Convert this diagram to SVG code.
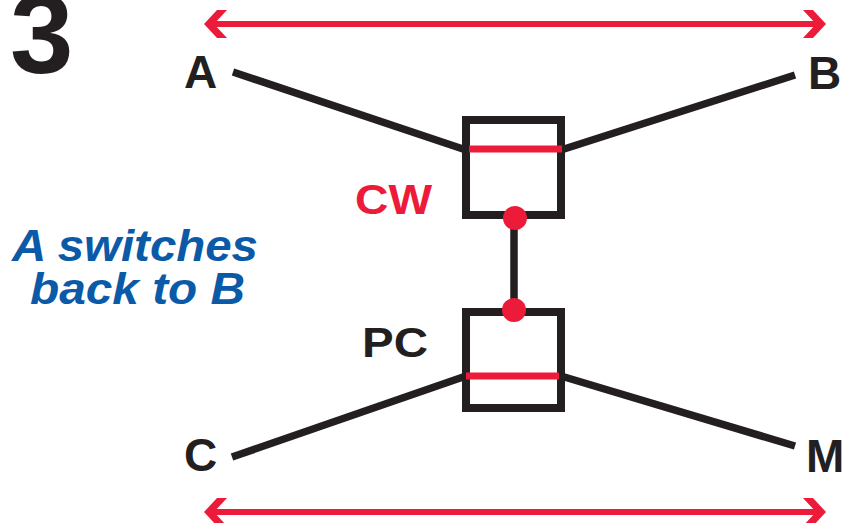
<svg xmlns="http://www.w3.org/2000/svg" width="844" height="523" viewBox="0 0 844 523">
<style>
.blk{stroke:#231f20;stroke-width:7.5;fill:none}
.box{stroke:#231f20;stroke-width:8;fill:#fff}
.bar{stroke:#ed1b3a;stroke-width:7}
.arr{stroke:#ed1b3a;stroke-width:6}
.head{fill:#ed1b3a}
.dot{fill:#ed1b3a}
.lbl{font-family:"Liberation Sans",Arial,sans-serif;font-weight:bold;fill:#231f20}
.note{font-family:"Liberation Sans",Arial,sans-serif;font-weight:bold;font-style:italic;font-size:44px;fill:#0a5aa8}
</style>
<rect width="844" height="523" fill="#fff"/>
<text class="lbl" x="10" y="73" font-size="114">3</text>
<text class="note" x="12" y="261" textLength="246" lengthAdjust="spacingAndGlyphs">A switches</text>
<text class="note" x="30" y="304" textLength="215" lengthAdjust="spacingAndGlyphs">back to B</text>
<g id="connectors">
<line class="blk" x1="233" y1="72" x2="466" y2="150"/>
<line class="blk" x1="561" y1="150" x2="795" y2="75"/>
<line class="blk" x1="232" y1="457" x2="466" y2="376"/>
<line class="blk" x1="561" y1="376" x2="795" y2="446"/>
<line class="blk" x1="514" y1="218" x2="514" y2="310"/>
<g id="arrowTop">
<line class="arr" x1="210" y1="24" x2="820" y2="24"/>
<polygon class="head" points="803,10 813,10 826,24 813,38 803,38 816,24"/>
<polygon class="head" points="227,10 217,10 204,24 217,38 227,38 214,24"/>
</g>
<g id="arrowBottom">
<line class="arr" x1="210" y1="512" x2="820" y2="512"/>
<polygon class="head" points="803,498 813,498 826,512 813,526 803,526 816,512"/>
<polygon class="head" points="227,498 217,498 204,512 217,526 227,526 214,512"/>
</g>
</g>
<g id="A"><text class="lbl" x="184" y="88" font-size="46">A</text></g>
<g id="B"><text class="lbl" x="808" y="89" font-size="46">B</text></g>
<g id="C"><text class="lbl" x="184" y="471" font-size="46">C</text></g>
<g id="M"><text class="lbl" x="806" y="472" font-size="46">M</text></g>
<g id="CW">
<rect class="box" x="466" y="120" width="95" height="95"/>
<line class="bar" x1="469" y1="149" x2="562" y2="149"/>
<circle class="dot" cx="515" cy="218" r="12"/>
<text x="355" y="214" font-family="Liberation Sans,Arial,sans-serif" font-weight="bold" font-size="43" fill="#ed1b3a" textLength="77" lengthAdjust="spacingAndGlyphs">CW</text>
</g>
<g id="PC">
<rect class="box" x="466" y="312" width="95" height="96"/>
<line class="bar" x1="466" y1="376" x2="559" y2="376"/>
<circle class="dot" cx="514" cy="310" r="12"/>
<text class="lbl" x="362" y="357" font-size="43" textLength="66" lengthAdjust="spacingAndGlyphs">PC</text>
</g>
</svg>
